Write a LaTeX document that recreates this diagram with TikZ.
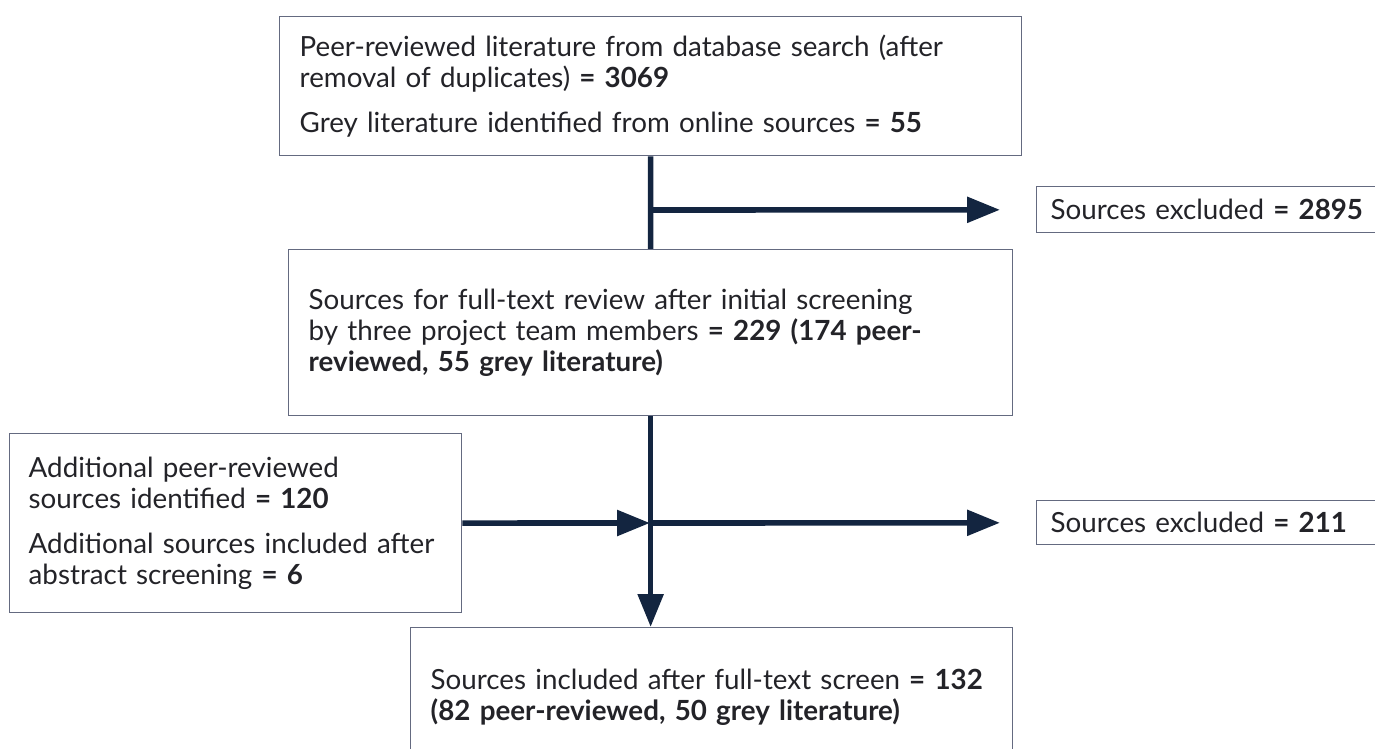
\documentclass[tikz,border=0pt]{standalone}
\usepackage{fontspec}
\setmainfont{Lato}
\usetikzlibrary{arrows.meta}
\definecolor{navy}{RGB}{19,37,64}
\definecolor{boxline}{RGB}{100,106,128}
\definecolor{ink}{RGB}{35,35,40}

\begin{document}
\begin{tikzpicture}[
  x=0.02cm, y=-0.02cm,
  font=\fontsize{15.8}{17.6}\selectfont,
  box/.style={rectangle, draw=boxline, line width=0.8pt, anchor=north west, inner xsep=0.4cm, inner ysep=0pt, align=left, text=ink},
  exbox/.style={box, inner xsep=0.28cm, text width=6.28cm},
  flow/.style={draw=navy, line width=3.2pt},
  arr/.style={flow, -{Triangle[length=0.66cm, width=0.5cm]}}
]
  \useasboundingbox (0,0) rectangle (1375,749);

  % Kaesten
  \node[box, text width=14.04cm, minimum height=2.78cm] (search) at (279,16)
    {Peer-reviewed literature from database search (after\\
     removal of duplicates) \textbf{= 3069}\\[0.28cm]
     Grey literature identified from online sources \textbf{= 55}};
  \node[box, text width=13.68cm, minimum height=3.32cm] (review) at (288,249)
    {Sources for full-text review after initial screening\\
     by three project team members \textbf{= 229 (174 peer-}\\
     \textbf{reviewed, 55 grey literature)}};
  \node[box, inner xsep=0.38cm, text width=8.28cm, minimum height=3.58cm] (extra) at (9,433)
    {Additional peer-reviewed\\
     sources identified \textbf{= 120}\\[0.28cm]
     Additional sources included after\\
     abstract screening \textbf{= 6}};
  \node[box, text width=11.24cm, minimum height=2.8cm] (incl) at (410,627)
    {Sources included after full-text screen \textbf{= 132}\\
     \textbf{(82 peer-reviewed, 50 grey literature)}};
  \node[exbox, minimum height=0.92cm] (excl1) at (1036,186) {Sources excluded \textbf{= 2895}};
  \node[exbox, minimum height=0.88cm] (excl2) at (1036,500) {Sources excluded \textbf{= 211}};

  % Abzweigungen
  \coordinate (j1) at (650,210);
  \coordinate (j2) at (650,523);

  % Verbindungen
  \draw[flow] (search.south) -- (review.north);
  \draw[arr] (review.south) -- (review.south |- incl.north);
  \draw[arr, shorten >=0.72cm] (j1) -- (excl1);
  \draw[arr] (extra) -- (j2);
  \draw[arr, shorten >=0.72cm] (j2) -- (excl2);
\end{tikzpicture}
\end{document}
